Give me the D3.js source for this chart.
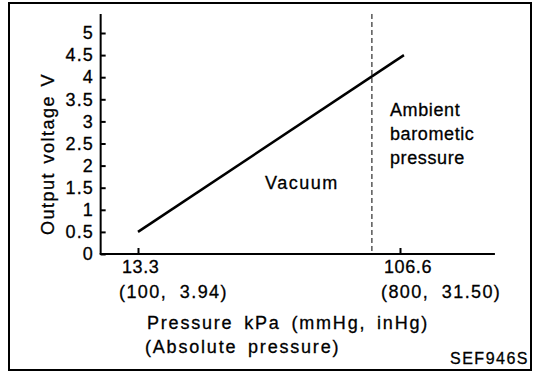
<!DOCTYPE html>
<html>
<head>
<meta charset="utf-8">
<script src="https://cdn.jsdelivr.net/npm/d3@7"></script>
<style>
  body { margin: 0; background: #fff; }
  text { font-family: "Liberation Sans", Arial, sans-serif; fill: #000; stroke: #000; stroke-width: 0.3px; }
</style>
</head>
<body>
<script>
// data
var voltTicks = [0, 0.5, 1, 1.5, 2, 2.5, 3, 3.5, 4, 4.5, 5];
var voltLabels = ["0", "0.5", "1", "1.5", "2", "2.5", "3", "3.5", "4", "4.5", "5"];
var kpaTicks = [13.3, 106.6];
var kpaLabels = ["13.3", "106.6"];
var mmInLabels = ["(100,  3.94)", "(800,  31.50)"];
var linePressure = [13.3, 108];
var lineVoltage = [0.5, 4.5];
var ambientKpa = 96.6;

var w = 560, h = 376;

var svg = d3.select("body").append("svg")
  .attr("width", w)
  .attr("height", h);

function txt(sel, size, ls, ws) {
  return sel.attr("font-size", size + "px")
    .attr("letter-spacing", ls + "px")
    .attr("word-spacing", (ws || 0) + "px");
}

// frame
svg.append("rect")
  .attr("x", 9).attr("y", 3)
  .attr("width", 522).attr("height", 367)
  .attr("fill", "none")
  .attr("stroke", "#000")
  .attr("stroke-width", 2);

var x = d3.scaleLinear().domain([13.3, 106.6]).range([138, 400]);
var y = d3.scaleLinear().domain([0, 5]).range([254, 33]);

// axis lines
svg.append("line")
  .attr("x1", x(0)).attr("x2", x(0))
  .attr("y1", y(0)).attr("y2", y(5.43))
  .attr("stroke", "#000").attr("stroke-width", 2);
svg.append("line")
  .attr("x1", x(0) - 1).attr("x2", x(140.4))
  .attr("y1", y(0)).attr("y2", y(0))
  .attr("stroke", "#000").attr("stroke-width", 2);

// y axis
var yAxis = svg.append("g")
  .attr("transform", "translate(" + x(0) + ",0)")
  .call(d3.axisLeft(y)
    .tickValues(voltTicks)
    .tickSizeInner(-5)
    .tickSizeOuter(0)
    .tickPadding(7)
    .tickFormat(function(d, i) { return voltLabels[i]; }));
yAxis.select(".domain").remove();
yAxis.selectAll("line").attr("stroke", "#000").attr("stroke-width", 2);
txt(yAxis.selectAll("text"), 18, 1)
  .attr("fill", "#000")
  .style("font-family", "Liberation Sans, Arial, sans-serif");

// x axis ticks
var xAxis = svg.append("g")
  .attr("transform", "translate(0," + y(0) + ")")
  .call(d3.axisBottom(x)
    .tickValues(kpaTicks)
    .tickSizeInner(-6)
    .tickSizeOuter(0)
    .tickFormat(""));
xAxis.select(".domain").remove();
xAxis.selectAll("line").attr("stroke", "#000").attr("stroke-width", 2);

txt(svg.selectAll(".kpa")
  .data(kpaTicks)
  .enter()
  .append("text")
  .attr("class", "kpa")
  .attr("x", function(d) { return x(d) - 16; })
  .attr("y", 273), 18, 0.6)
  .text(function(d, i) { return kpaLabels[i]; });

txt(svg.selectAll(".mmin")
  .data(kpaTicks)
  .enter()
  .append("text")
  .attr("class", "mmin")
  .attr("x", function(d) { return x(d) - 19; })
  .attr("y", 298), 18, 1.4)
  .style("white-space", "pre")
  .text(function(d, i) { return mmInLabels[i]; });

// ambient pressure dashed line
svg.append("line")
  .attr("x1", x(ambientKpa)).attr("x2", x(ambientKpa))
  .attr("y1", y(5.43)).attr("y2", y(0))
  .attr("stroke", "#000")
  .attr("stroke-width", 1)
  .attr("stroke-dasharray", "5,3");

// output line
var lineData = linePressure.map(function(p, i) { return [p, lineVoltage[i]]; });
svg.append("path")
  .datum(lineData)
  .attr("fill", "none")
  .attr("stroke", "#000")
  .attr("stroke-width", 2.5)
  .attr("d", d3.line()
    .x(function(d) { return x(d[0]); })
    .y(function(d) { return y(d[1]); }));

// labels
txt(svg.append("text")
  .attr("transform", "translate(54,154) rotate(-90)")
  .attr("text-anchor", "middle"), 18, 1.5, 2)
  .text("Output voltage V");

txt(svg.append("text")
  .attr("x", 265).attr("y", 189), 18, 1.5)
  .text("Vacuum");

var ambient = ["Ambient", "barometic", "pressure"];
txt(svg.selectAll(".amb")
  .data(ambient)
  .enter()
  .append("text")
  .attr("class", "amb")
  .attr("x", 390)
  .attr("y", function(d, i) { return 116 + i * 24; }), 18, 0.6)
  .text(function(d) { return d; });

txt(svg.append("text")
  .attr("x", 147).attr("y", 329), 18, 1.8, 4)
  .text("Pressure kPa (mmHg, inHg)");

txt(svg.append("text")
  .attr("x", 145).attr("y", 353), 18, 1.8, 4)
  .text("(Absolute pressure)");

txt(svg.append("text")
  .attr("x", 529).attr("y", 364)
  .attr("text-anchor", "end"), 16, 1.5)
  .text("SEF946S");
</script>
</body>
</html>
